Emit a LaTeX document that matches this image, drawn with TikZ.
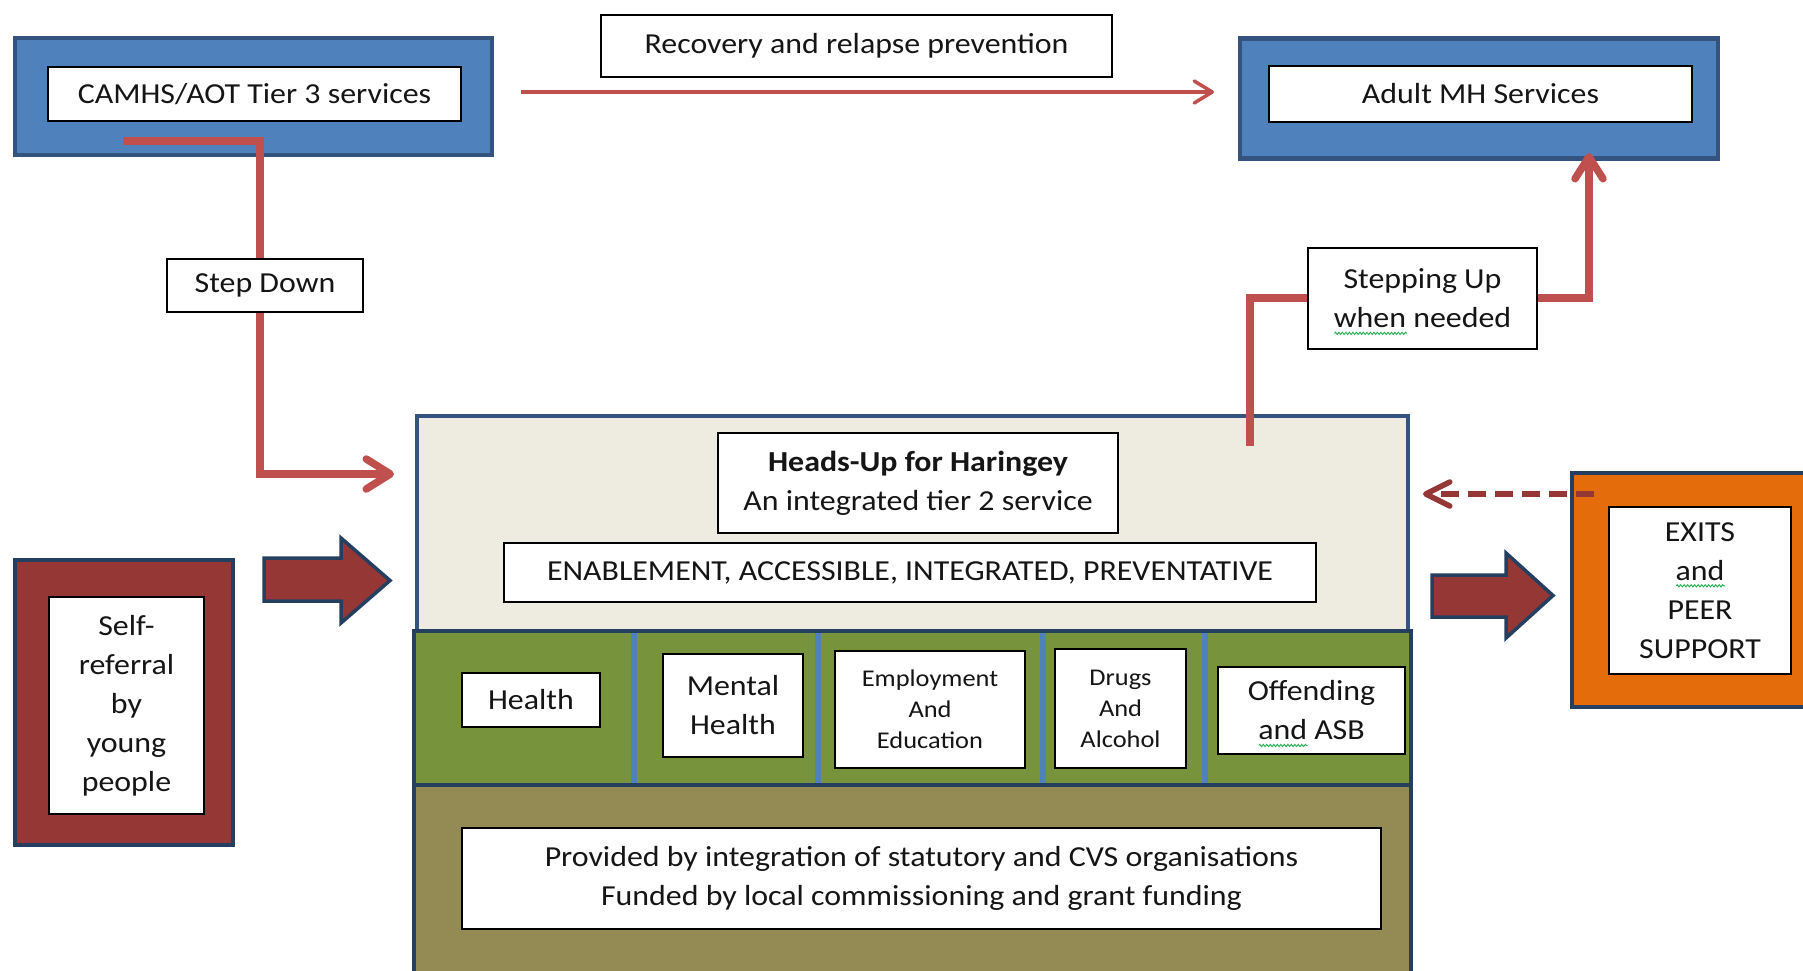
\documentclass[tikz,border=0pt]{standalone}
\usepackage{fontspec}
\setmainfont{Carlito}[FakeStretch=1.1]
\usetikzlibrary{arrows.meta,calc,decorations.pathmorphing}
\definecolor{bluefill}{HTML}{4F81BD}
\definecolor{blueedge}{HTML}{34547F}
\definecolor{navy}{HTML}{243F60}
\definecolor{redline}{HTML}{C0504D}
\definecolor{darkred}{HTML}{953735}
\definecolor{orangefill}{HTML}{E46C0A}
\definecolor{beige}{HTML}{EEECE1}
\definecolor{greenfill}{HTML}{77933C}
\definecolor{olivefill}{HTML}{948A54}
\definecolor{spellgreen}{HTML}{22B14C}
\definecolor{txt}{HTML}{151515}
\newcommand\spellwave[1]{\setbox0=\hbox{#1}\rlap{\smash{\tikz[baseline=0pt]\draw[spellgreen, line width=0.9pt, fill=none, decorate, decoration={snake, amplitude=1.1pt, segment length=3.5pt}] (0pt,-5.5pt) -- (\the\wd0,-5.5pt);}}\box0\relax}
\begin{document}
\begin{tikzpicture}[x=1pt,y=-1pt,
  every node/.style={inner sep=0pt, align=center, text=txt, font=\fontsize{29}{39}\selectfont},
  panel/.style={draw=blueedge, line width=4.5pt, fill=bluefill},
  wbox/.style={draw=black, line width=1.6pt, fill=white},
  smalltext/.style={font=\fontsize{24}{31}\selectfont},
  stepline/.style={draw=redline, line width=7.5pt},
  blockarrow/.style={fill=darkred, draw=navy, line width=3.5pt, line join=miter},
  divider/.style={draw=bluefill, line width=6pt}]
\useasboundingbox (0,0) rectangle (1803,970);

% top panels
\node[panel, minimum width=477pt, minimum height=117pt] (camhsOuter) at (253.5,96.5) {};
\node[wbox, minimum width=413pt, minimum height=54pt] (camhs) at (254.5,94) {CAMHS/AOT Tier 3 services};
\node[wbox, minimum width=511pt, minimum height=62pt] (recovery) at (856.5,46) {Recovery and relapse prevention};
\node[panel, minimum width=478pt, minimum height=120pt] (adultOuter) at (1479,98.5) {};
\node[wbox, minimum width=423pt, minimum height=56pt] (adult) at (1480.5,94) {Adult MH Services};

% central block
\node[draw=blueedge, line width=4.5pt, fill=beige, minimum width=991pt, minimum height=215pt] (top) at (912.5,523.5) {};
\node[draw=navy, line width=4.5pt, fill=olivefill, minimum width=997pt, minimum height=205pt] (bottom) at (912.5,887.5) {};
\node[draw=navy, line width=4.5pt, fill=greenfill, minimum width=997pt, minimum height=154pt] (mid) at (912.5,708) {};
\foreach \xx in {634,818,1043,1205} \draw[divider] (\xx,633) -- (\xx,783);

\node[wbox, minimum width=400pt, minimum height=100pt] (heads) at (918,483) {\textbf{Heads-Up for Haringey}\\An integrated tier 2 service};
\node[wbox, minimum width=812pt, minimum height=59pt] (enable) at (910,572.5) {ENABLEMENT, ACCESSIBLE, INTEGRATED, PREVENTATIVE};
\node[wbox, minimum width=138pt, minimum height=54pt] (health) at (531,700) {Health};
\node[wbox, minimum width=140pt, minimum height=103pt] (mental) at (733,705.5) {Mental\\Health};
\node[wbox, smalltext, minimum width=190pt, minimum height=117pt] (employ) at (930,709.5) {Employment\\And\\Education};
\node[wbox, smalltext, minimum width=131pt, minimum height=119pt] (drugs) at (1120.5,708.5) {Drugs\\And\\Alcohol};
\node[wbox, minimum width=187pt, minimum height=87pt] (offend) at (1311.5,710.5) {Offending\\\spellwave{and} ASB};
\node[wbox, minimum width=919pt, minimum height=101pt] (provided) at (921.5,878.5) {Provided by integration of statutory and CVS organisations\\Funded by local commissioning and grant funding};

% side panels
\node[draw=navy, line width=4pt, fill=darkred, minimum width=218pt, minimum height=285pt] (selfOuter) at (124,702.5) {};
\node[wbox, minimum width=155pt, minimum height=217pt] (self) at (126.5,705.5) {Self-\\referral\\by\\young\\people};
\node[draw=navy, line width=4pt, fill=orangefill, minimum width=258pt, minimum height=234pt] (exitsOuter) at (1701,590) {};
\node[wbox, minimum width=182pt, minimum height=167pt] (exits) at (1700,590.5) {EXITS\\\spellwave{and}\\PEER\\SUPPORT};

% block arrows
\draw[blockarrow] (264,558) -- (341,558) -- (341,538) -- (390,580.5) -- (341,623) -- (341,601) -- (264,601) -- cycle;
\draw[blockarrow] (1432,575) -- (1506,575) -- (1506,553) -- (1553,595.5) -- (1506,638) -- (1506,617) -- (1432,617) -- cycle;

% connectors
\coordinate (recA) at (521,92);
\coordinate (recB) at (1214,92);
\draw[draw=redline, line width=3.5pt, -{Straight Barb[length=18pt,width=22pt,round]}] (recA) -- (recB);

\coordinate (sdA) at (123,141);
\coordinate (sdbend) at (260,300);
\coordinate (sdB) at (394,474);
\draw[stepline, -{Straight Barb[length=24pt,width=30pt,round]}] (sdA) -| (sdbend) |- (sdB);

\coordinate (suA) at (1250,446);
\coordinate (subend) at (1589,298);
\coordinate (suB) at (1589,153);
\draw[stepline, -{Straight Barb[length=22pt,width=28pt,round]}] (suA) |- (subend) -- (suB);

\coordinate (dA) at (1594,494);
\coordinate (dB) at (1423,494);
\draw[draw=darkred, line width=5.5pt, dash pattern=on 18pt off 9pt, -{Straight Barb[length=24pt,width=24pt,round]}] (dA) -- (dB);

% label boxes on connectors
\node[wbox, minimum width=196pt, minimum height=53pt] (stepdown) at (265,285.5) {Step Down};
\node[wbox, minimum width=229pt, minimum height=101pt] (steppingup) at (1422.5,298.5) {Stepping Up\\\spellwave{when} needed};
\end{tikzpicture}
\end{document}
